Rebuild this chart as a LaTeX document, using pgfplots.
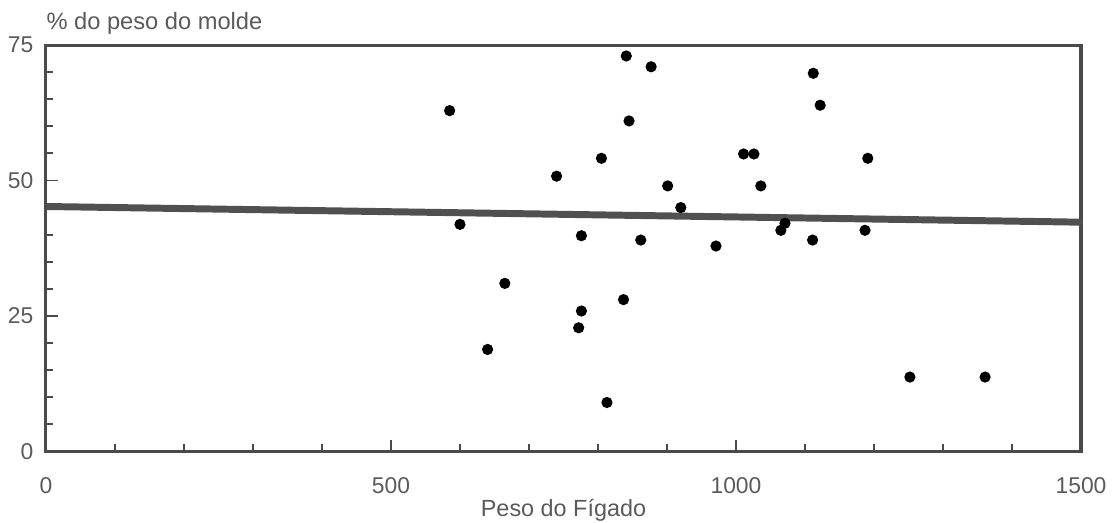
\documentclass[border=0pt]{standalone}
\usepackage{fontspec}
\setmainfont{Liberation Sans}
\usepackage{pgfplots}
\pgfplotsset{compat=1.18}
\usetikzlibrary{calc}

\definecolor{axisgray}{HTML}{4A4A4A}
\definecolor{linegray}{HTML}{505050}
\definecolor{textgray}{HTML}{5A5A5A}

\begin{document}
\begin{tikzpicture}
\begin{axis}[
  scale only axis,
  width=371.6pt,
  height=145.8pt,
  xmin=0, xmax=1500,
  ymin=0, ymax=75,
  xtick={0,500,1000,1500},
  ytick={0,25,50,75},
  minor x tick num=4,
  minor y tick num=4,
  tick pos=left,
  tick align=inside,
  major tick length=4.2pt,
  minor tick length=2.6pt,
  axis line style={axisgray, line width=1.1pt},
  tick style={axisgray, line width=0.7pt},
  every tick label/.append style={font=\fontsize{8.2}{9}\selectfont, text=textgray},
  /pgf/number format/assume math mode=true,
  /pgf/number format/1000 sep={},
  xticklabel style={yshift=-6pt},
  yticklabel style={xshift=-1pt},
  xlabel={Peso do Fígado},
  xlabel style={font=\fontsize{8.4}{9}\selectfont, text=textgray,
    at={(rel axis cs:0.5,0)}, anchor=north, yshift=-17pt, inner sep=0pt},
  clip=false,
]
\addplot[no marks, line width=2.5pt, color=linegray] coordinates {(0,45.2) (1500,42.3)};
\addplot[only marks, mark=*, mark size=1.8pt, color=black] coordinates {
  (585,62.9) (600,41.9) (640,18.8) (665,31.0) (740,50.8)
  (772,22.8) (776,25.9) (776,39.8) (805,54.1) (813,9.0)
  (837,28.0) (841,73.0) (845,61.0) (862,39.0) (877,71.0)
  (901,49.0) (920,45.0) (971,37.9) (1011,54.9) (1026,54.9)
  (1036,49.0) (1065,40.8) (1071,42.1) (1111,39.0) (1112,69.8)
  (1122,63.9) (1187,40.8) (1191,54.1) (1252,13.7) (1361,13.7)
};
\node[anchor=south west, inner sep=0pt, font=\fontsize{8.5}{9}\selectfont, text=textgray]
  at ([yshift=3.5pt]rel axis cs:0,1) {\% do peso do molde};
\end{axis}
\pgfresetboundingbox
\path[use as bounding box] ($(current axis.south west)+(-16.5pt,-25.5pt)$) rectangle ($(current axis.north east)+(11.85pt,16.2pt)$);
\end{tikzpicture}
\end{document}
